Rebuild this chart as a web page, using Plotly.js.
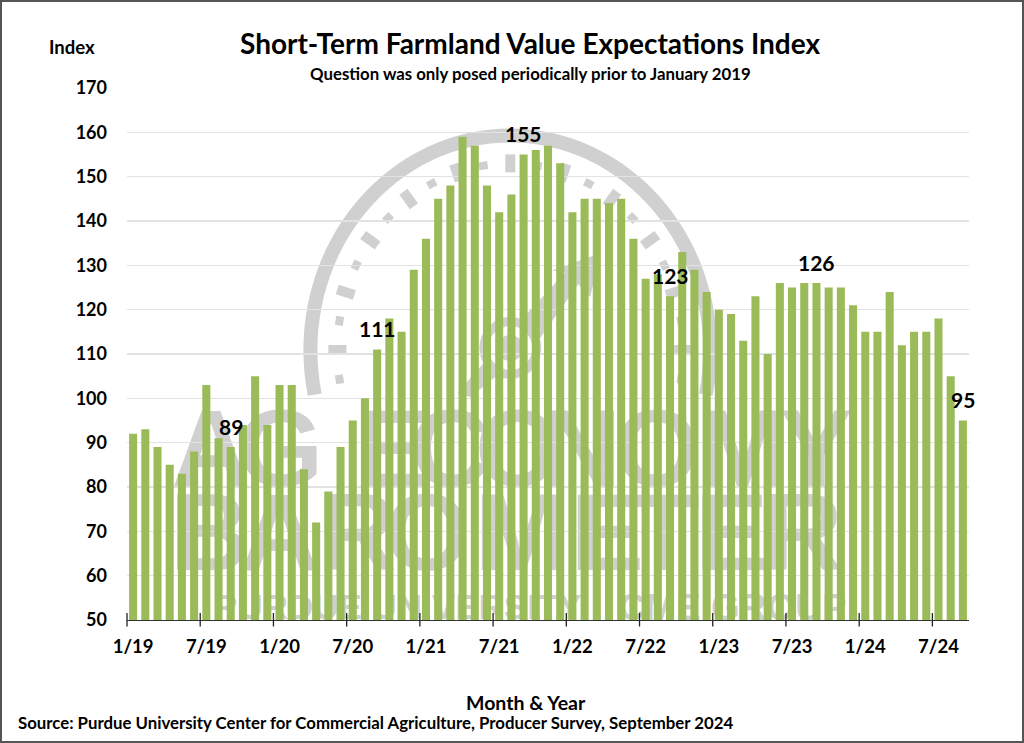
<!DOCTYPE html>
<html>
<head>
<meta charset="utf-8">
<script src="https://cdn.plot.ly/plotly-3.0.1.min.js"></script>
<style>
html,body{margin:0;padding:0;background:#fff;}
#chart{width:1024px;height:743px;}
#frame{position:absolute;left:0;top:0;width:1024px;height:743px;box-sizing:border-box;border:2px solid #555;pointer-events:none;}
</style>
</head>
<body>
<div id="chart"></div>
<div id="frame"></div>
<script>
const months = [
 "1/19","2/19","3/19","4/19","5/19","6/19","7/19","8/19","9/19","10/19","11/19","12/19",
 "1/20","2/20","3/20","4/20","5/20","6/20","7/20","8/20","9/20","10/20","11/20","12/20",
 "1/21","2/21","3/21","4/21","5/21","6/21","7/21","8/21","9/21","10/21","11/21","12/21",
 "1/22","2/22","3/22","4/22","5/22","6/22","7/22","8/22","9/22","10/22","11/22","12/22",
 "1/23","2/23","3/23","4/23","5/23","6/23","7/23","8/23","9/23","10/23","11/23","12/23",
 "1/24","2/24","3/24","4/24","5/24","6/24","7/24","8/24","9/24"];
const indexValues = [
 92,93,89,85,83,88,103,91,89,94,105,94,
 103,103,84,72,79,89,95,100,111,118,115,129,
 136,145,148,159,157,148,142,146,155,156,157,153,
 142,145,145,144,145,136,127,128,123,133,129,124,
 120,119,113,123,110,126,125,126,126,125,125,121,
 115,115,124,112,115,115,118,105,95];
const tickLabels = ["1/19","7/19","1/20","7/20","1/21","7/21","1/22","7/22","1/23","7/23","1/24","7/24"];
const labelledMonths = ["9/19","9/20","9/21","9/22","9/23","9/24"];
const yTicks = [50,60,70,80,90,100,110,120,130,140,150,160,170];

const FONT = 'Lato, "Liberation Sans", sans-serif';
const GRAY = '#d0d0d0';
const L = 126.5, R = 969, T = 87.5, B = 620.5;
const px = x => (x - L) / (R - L);
const py = y => (B - y) / (B - T);

// --- watermark logo behind the bars ---
const shapes = [];
const cx = 510, cy = 350;
function ellipsePath(rx, ry, a0, a1) {
  let d = '';
  for (let a = a0; a <= a1 + 1e-6; a += 3) {
    const t = a * Math.PI / 180;
    d += (d ? 'L' : 'M') + px(cx - rx * Math.cos(t)).toFixed(5) + ',' + py(cy - ry * Math.sin(t)).toFixed(5);
  }
  return d;
}
function polyPath(pts) {
  return pts.map((p, i) => (i ? 'L' : 'M') + px(p[0]).toFixed(5) + ',' + py(p[1]).toFixed(5)).join('') + 'Z';
}
function strokeShape(path, w) {
  shapes.push({type:'path', xref:'paper', yref:'paper', layer:'below', path, line:{color:GRAY, width:w}});
}
// outer arc
strokeShape(ellipsePath(200, 215, -12, 192), 14);
// dashed inner ring
for (let a = -9; a <= 189; a += 9) {
  const big = ((a % 18) + 18) % 18 === 0;
  const t = a * Math.PI / 180, c = Math.cos(t), s = Math.sin(t);
  const half = big ? 9 : 4;
  const p0 = [cx - (173 - half) * c, cy - (187 - half) * s];
  const p1 = [cx - (173 + half) * c, cy - (187 + half) * s];
  strokeShape('M' + px(p0[0]) + ',' + py(p0[1]) + 'L' + px(p1[0]) + ',' + py(p1[1]), big ? 10 : 9);
}
// hub and needle
const hubX = 510, hubY = 348;
function circle(r) {
  return {type:'circle', xref:'paper', yref:'paper', layer:'below',
    x0:px(hubX - r), x1:px(hubX + r), y0:py(hubY + r), y1:py(hubY - r)};
}
shapes.push({type:'path', xref:'paper', yref:'paper', layer:'below', line:{width:0}, fillcolor:GRAY,
  path: polyPath([[457,393],[530,310],[565,272],[552,270],[600,253],[590,297],[578,284],[535,345],[470,397]])});
shapes.push(Object.assign(circle(31), {fillcolor:GRAY, line:{width:0}}));
shapes.push(Object.assign(circle(22), {fillcolor:'#fff', line:{width:0}}));
shapes.push(Object.assign(circle(13), {fillcolor:GRAY, line:{width:0}}));
// logo lettering (real text carried by invisible shapes)
function letter(text, x0, x1, y0, y1, size, family) {
  shapes.push({type:'rect', xref:'paper', yref:'paper', layer:'below',
    x0:px(x0), x1:px(x1), y0:py(y1), y1:py(y0), line:{width:0}, fillcolor:'rgba(0,0,0,0)',
    label:{text, textposition:'middle center', font:{family, size, color:GRAY, weight:700}}});
}
const NARROW = '"Liberation Sans Narrow", "Liberation Sans", sans-serif';
const row1 = [["A",178,243],["G",253,307],["E",367,420],["C",420,480],["O",485,550],["N",553,610],["O",625,688],["M",702,783],["Y",787,845]];
const row2 = [["B",183,235],["A",248,310],["R",333,380],["O",397,457],["M",480,560],["E",587,627],["T",642,690],["E",713,750],["R",783,823]];
row1.forEach(l => letter(l[0], l[1], l[2], 398, 477, 110, NARROW));
row2.forEach(l => letter(l[0], l[1], l[2], 482, 561, 110, NARROW));
letter("PURDUE UNIVERSITY", 183, 612, 589, 618, 35, '"Liberation Sans", sans-serif');
letter("CME GROUP", 635, 830, 589, 618, 37, NARROW);

// tick marks crossing the axis, on the boundaries between months
tickLabels.forEach(t => {
  const edge = months.indexOf(t) / months.length;
  shapes.push({type:'line', xref:'paper', yref:'paper', layer:'above', x0:edge, x1:edge,
    y0:py(613.5), y1:py(627), line:{color:'#222', width:1.3}});
});

// --- text around the plot ---
const annotations = labelledMonths.map(m => ({
  x: m, y: indexValues[months.indexOf(m)], xref:'x', yref:'y', yshift: 21, showarrow:false,
  text: String(indexValues[months.indexOf(m)]),
  font:{family:FONT, size:21, color:'#000', weight:700}
}));
function note(text, x, y, size, anchor) {
  annotations.push({text, x:px(x), y:py(y), xref:'paper', yref:'paper', showarrow:false,
    xanchor:anchor, yanchor:'middle', font:{family:FONT, size, color:'#000', weight:700}});
}
note('Index', 71, 46, 18.5, 'center');
note('Question was only posed periodically prior to January 2019', 530, 73, 16.8, 'center');
note('Month & Year', 526, 703, 19.5, 'center');
note('Source: Purdue University Center for Commercial Agriculture, Producer Survey, September 2024', 15, 723, 16.8, 'left');

const bars = {type:'bar', x:months, y:indexValues, marker:{color:'#9BBB59', line:{width:0}}, hoverinfo:'x+y'};

const layout = {
  width:1024, height:743, paper_bgcolor:'#fff', plot_bgcolor:'rgba(0,0,0,0)',
  margin:{l:L, r:1024-R, t:T, b:743-B, pad:0},
  bargap:0.34, showlegend:false,
  title:{text:'Short-Term Farmland Value Expectations Index', xref:'container', yref:'container',
    x:530/1024, y:1-44/743, xanchor:'center', yanchor:'middle',
    font:{family:FONT, size:28, color:'#000', weight:700}},
  xaxis:{type:'category', categoryorder:'array', categoryarray:months, range:[-0.5,68.5], autorange:false,
    tickmode:'array', tickvals:tickLabels, ticktext:tickLabels, ticks:'', ticklabelstandoff:9, tickangle:0,
    tickfont:{family:FONT, size:18.5, color:'#000', weight:700},
    showline:true, linecolor:'#333', linewidth:1.3, showgrid:false, zeroline:false},
  yaxis:{range:[50,170], autorange:false, tickmode:'array', tickvals:yTicks, ticks:'', ticklabelstandoff:19,
    tickfont:{family:FONT, size:18, color:'#000', weight:700},
    showgrid:true, gridcolor:'#e2e2e2', gridwidth:1.2, zeroline:false, showline:false},
  shapes, annotations
};
Plotly.newPlot('chart', [bars], layout, {displayModeBar:false, staticPlot:true});
</script>
</body>
</html>
